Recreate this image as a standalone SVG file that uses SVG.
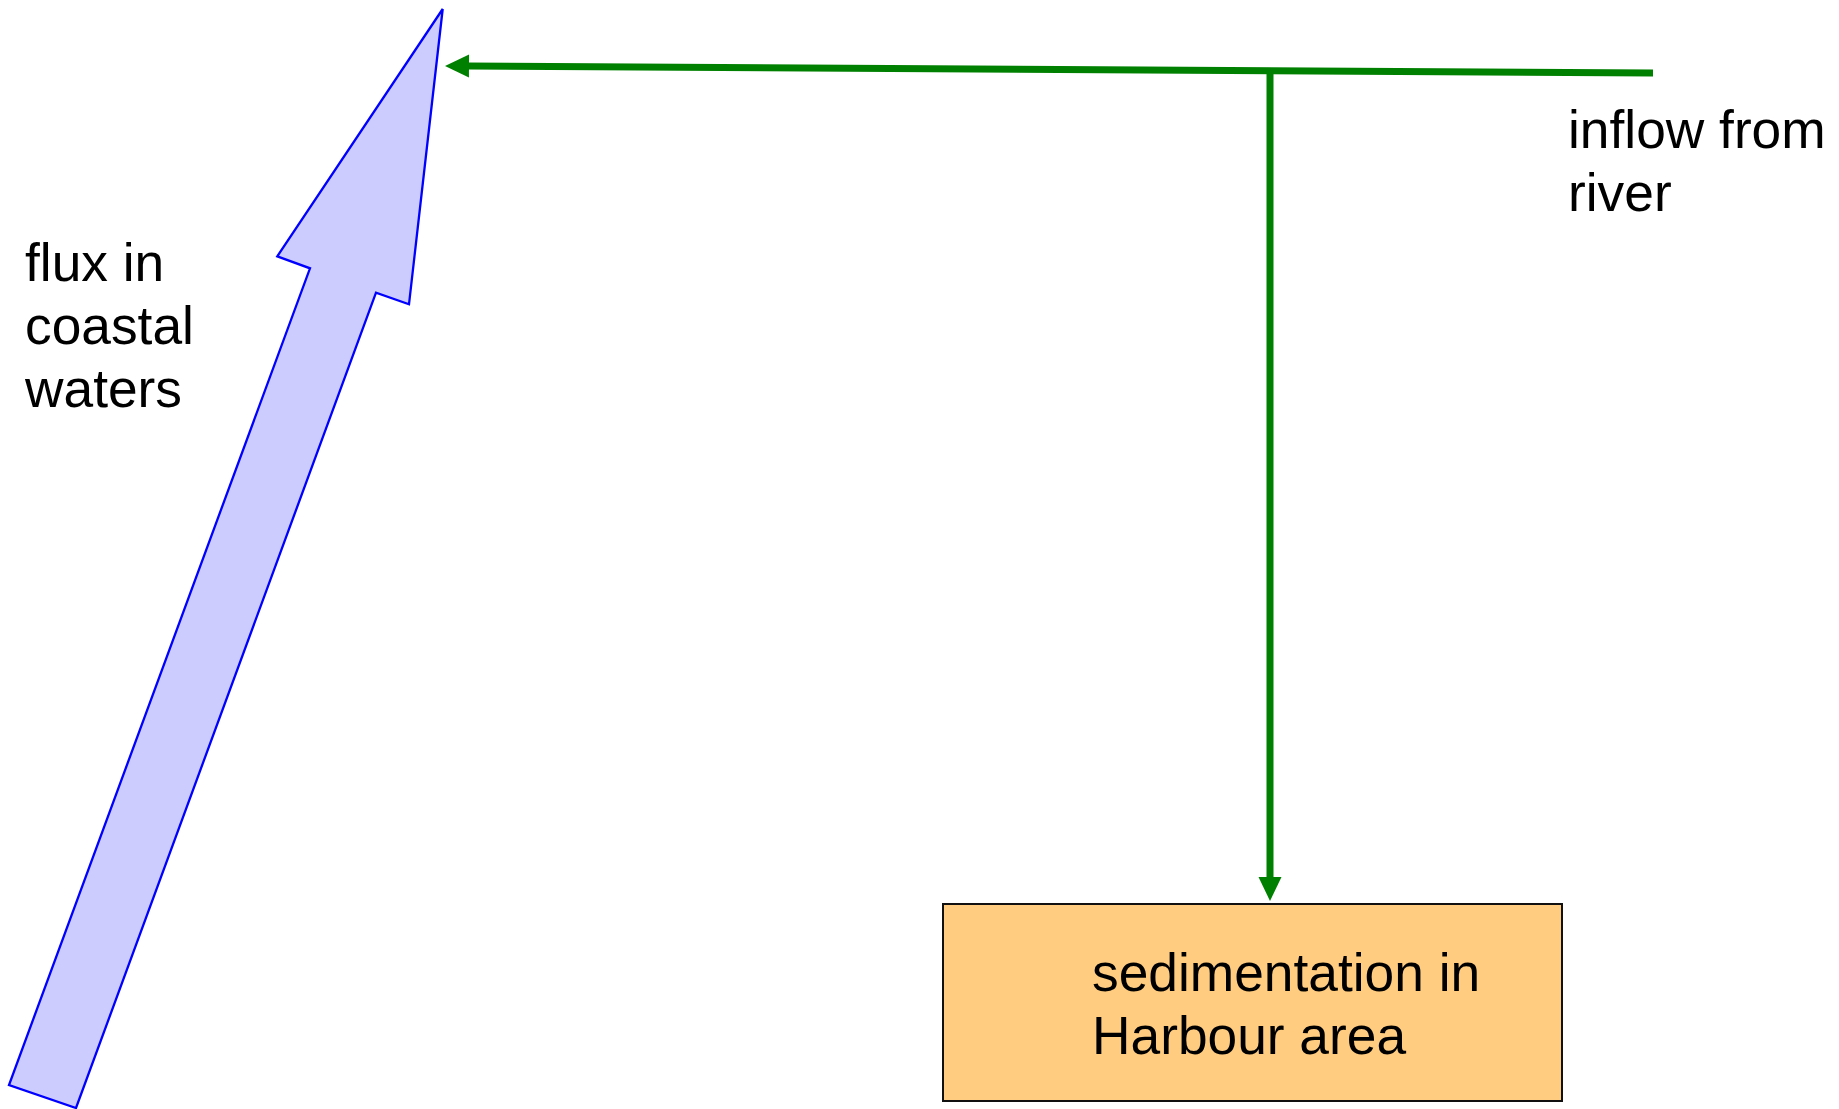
<svg xmlns="http://www.w3.org/2000/svg" width="1839" height="1109" viewBox="0 0 1839 1109">
  <style>
    .lbl { font-family: "Liberation Sans", Arial, sans-serif; font-size: 53.3px; fill: #000000; }
    .flow { stroke: #008000; stroke-width: 7; fill: none; }
  </style>
  <defs>
    <marker id="ah" markerUnits="userSpaceOnUse" markerWidth="24" markerHeight="24" refX="0" refY="11.5" orient="auto" overflow="visible">
      <path d="M0,0 L24,11.5 L0,23 z" fill="#008000"/>
    </marker>
  </defs>
  <rect width="1839" height="1109" fill="#ffffff"/>

  <g id="coastal-flux">
    <polygon points="442.7,9 409,304.3 376,292.7 76,1108 9,1085 310,268.3 277.3,256.3" fill="#ccccff" stroke="#0000ff" stroke-width="2.3" stroke-linejoin="miter"/>
    <text class="lbl" x="25" y="281">flux in</text>
    <text class="lbl" x="25" y="344">coastal</text>
    <text class="lbl" x="25" y="407">waters</text>
  </g>

  <g id="river-inflow">
    <text class="lbl" x="1568" y="148">inflow from</text>
    <text class="lbl" x="1568" y="211">river</text>
  </g>

  <g id="harbour">
    <rect x="943" y="904" width="619" height="197" fill="#ffcc80" stroke="#111111" stroke-width="2"/>
    <text class="lbl" x="1092" y="991">sedimentation in</text>
    <text class="lbl" x="1092" y="1054">Harbour area</text>
  </g>

  <g id="connectors">
    <line class="flow" x1="1653" y1="73" x2="469" y2="66.1" marker-end="url(#ah)"/>
    <line class="flow" x1="1270" y1="70.5" x2="1270" y2="877" marker-end="url(#ah)"/>
  </g>
</svg>
